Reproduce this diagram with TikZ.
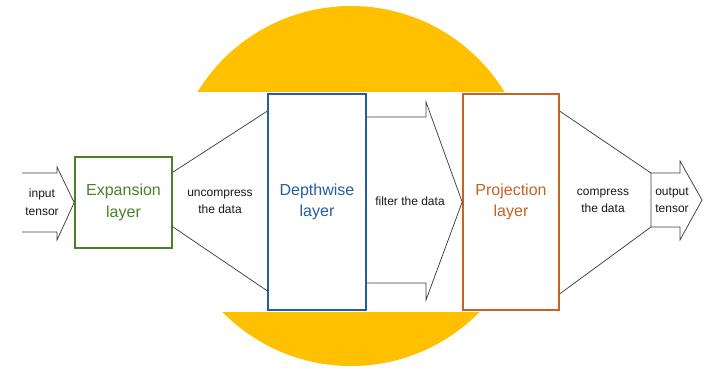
\documentclass[tikz,border=0pt]{standalone}
\usepackage{fontspec}
\setmainfont{Liberation Sans}

\definecolor{sunyellow}{RGB}{255,192,0}
\definecolor{expgreen}{RGB}{72,130,40}
\definecolor{dwblue}{RGB}{38,93,160}
\definecolor{projorange}{RGB}{200,98,34}

\begin{document}
\begin{tikzpicture}
        [x=1pt,y=-1pt,line join=miter,
         layerbox/.style={draw,line width=1.6pt,align=center,inner sep=0pt,
                          font=\fontsize{16}{21.5}\selectfont},
         note/.style={align=center,inner sep=0pt,text=black!90,
                      font=\fontsize{12}{17.5}\selectfont},
         flow/.style={draw=black!75,line width=0.75pt}]
        \useasboundingbox (0,0) rectangle (707,367);

        % yellow disc behind the white band
        \fill[sunyellow] (351,186) circle (180);
        \fill[white] (0,92) rectangle (707,312);

        \node[layerbox,draw=expgreen,text=expgreen,minimum width=97pt,minimum height=91pt]
             (exp) at (123.5,202.5) {Expansion\\layer};
        \node[layerbox,draw=dwblue,text=dwblue,minimum width=98pt,minimum height=216pt]
             (dw) at (317,202) {Depthwise\\layer};
        \node[layerbox,draw=projorange,text=projorange,minimum width=96pt,minimum height=216pt]
             (proj) at (511,202) {Projection\\layer};

        \coordinate (ftop) at (426,117);
        \coordinate (fbot) at (426,283);
        \coordinate (outl1) at (651,173);
        \coordinate (outl2) at (651,227);

        % input arrow
        \draw[flow] (22,173) -- (57,173) -- (57,167) -- (exp.west)
                    -- (57,240) -- (57,232) -- (22,232);

        % uncompress
        \path [flow] ([yshift=-16pt]exp.north east) edge ([yshift=-18pt]dw.north west);
        \path [flow] ([yshift=22pt]exp.south east) edge ([yshift=20pt]dw.south west);

        % filter arrow
        \draw[flow] (dw.east |- ftop) -- (ftop) -- (426,102) -- (proj.west)
                    -- (426,300) -- (fbot) -- (dw.east |- fbot);

        % compress
        \path [flow] ([yshift=-18pt]proj.north east) edge (outl1);
        \path [flow] ([yshift=17pt]proj.south east) edge (outl2);

        % output arrow
        \draw[flow] (outl1) -- (680,173) -- (680,161) -- (702,200)
                    -- (680,240) -- (680,227) -- (outl2) -- cycle;

        \node[note] (intxt) at (42,202) {input\\tensor};
        \node[note] (untxt) at (220,202) {uncompress\\the data};
        \node[note] (filtxt) at (410,201) {filter the data};
        \node[note] (comtxt) at (603,201) {compress\\the data};
        \node[note] (outtxt) at (672,200) {output\\tensor};
    \end{tikzpicture}
\end{document}
